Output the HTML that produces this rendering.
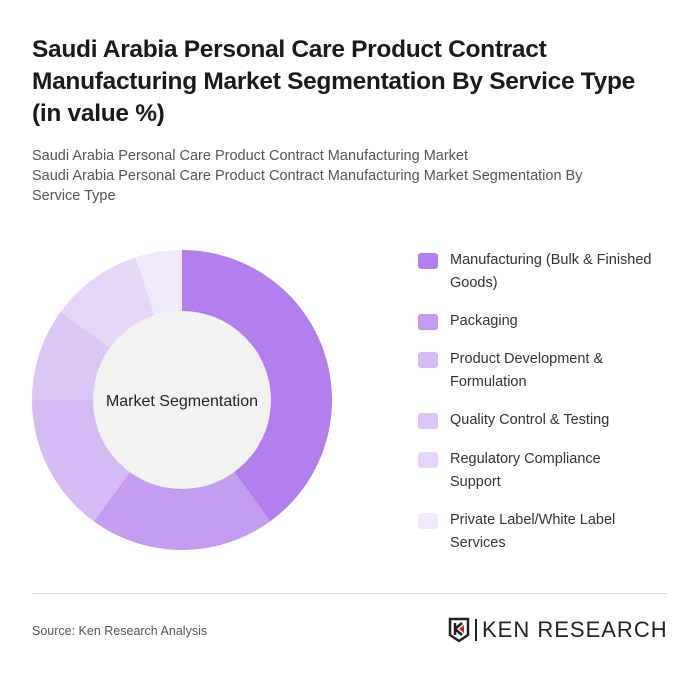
<!DOCTYPE html>
<html><head><meta charset="utf-8">
<style>
body{margin:0;width:700px;height:678px;background:#fff;font-family:"Liberation Sans",sans-serif;position:relative;overflow:hidden}
.t{position:absolute;left:32px;top:34px;font-size:24.5px;font-weight:bold;color:#1a1a1a;line-height:32px;width:660px;letter-spacing:-0.3px;white-space:nowrap}
.s{position:absolute;left:32px;top:146px;font-size:14.5px;color:#555;line-height:20px;width:600px}
.leg{position:absolute;left:418px;font-size:14.5px;color:#333;line-height:23px}
.leg span{position:absolute;left:0;top:4px;width:20px;height:16px;border-radius:3px}
.leg div{margin-left:32px;width:250px}
.hr{position:absolute;left:32px;top:593px;width:636px;height:1px;background:#ddd}
.src{position:absolute;left:32px;top:624px;font-size:12.5px;color:#555}
</style></head><body>
<div class="t">Saudi Arabia Personal Care Product Contract<br>Manufacturing Market Segmentation By Service Type<br>(in value %)</div>
<div class="s">Saudi Arabia Personal Care Product Contract Manufacturing Market<br>Saudi Arabia Personal Care Product Contract Manufacturing Market Segmentation By Service Type</div>
<svg id="donut" style="position:absolute;left:0;top:0" width="400" height="600"></svg>
<div id="legend"></div>
<div class="hr"></div>
<div class="src">Source: Ken Research Analysis</div>
<div style="position:absolute;left:448px;top:617px;height:26px;display:flex;align-items:center">
<svg width="22" height="26" viewBox="0 0 22 26"><path d="M2 2h18v16l-9 6-9-6z" fill="none" stroke="#222" stroke-width="2.5"/><path d="M7 6v12M7 12l7-6M7 12l7 6" stroke="#222" stroke-width="2.5" fill="none"/><path d="M11 12l5-4v8z" fill="#d0202a"/></svg>
<div style="width:2px;height:22px;background:#222;margin:0 5px"></div>
<span style="font-size:22px;color:#222;letter-spacing:1px">KEN RESEARCH</span>
</div>
<script>
const categories=["Manufacturing (Bulk & Finished|Goods)","Packaging","Product Development &|Formulation","Quality Control & Testing","Regulatory Compliance|Support","Private Label/White Label|Services"];
const values=[40,20,15,10,10,5];
const colors=["#b27ded","#c49cf0","#d5baf4","#dcc6f5","#e6d6f8","#f0e8fb"];
const NS="http://www.w3.org/2000/svg";
const svg=document.getElementById('donut');
const cx=182,cy=400,R=150,r=89;
const total=values.reduce((a,b)=>a+b,0);
let a0=0;
function pt(a,rad){return [cx+rad*Math.sin(a),cy-rad*Math.cos(a)];}
values.forEach((v,i)=>{
 const a1=a0+v/total*2*Math.PI;
 const [x0,y0]=pt(a0,R),[x1,y1]=pt(a1,R);
 const lg=(a1-a0)>Math.PI?1:0;
 const p=document.createElementNS(NS,'path');
 p.setAttribute('d',`M${cx},${cy}L${x0},${y0}A${R},${R} 0 ${lg} 1 ${x1},${y1}Z`);
 p.setAttribute('fill',colors[i]);
 
 
 svg.appendChild(p);
 a0=a1;
});
const c=document.createElementNS(NS,'circle');
c.setAttribute('cx',cx);c.setAttribute('cy',cy);c.setAttribute('r',r);c.setAttribute('fill','#f2f2f2');


svg.appendChild(c);
const t=document.createElementNS(NS,'text');
t.setAttribute('x',cx);t.setAttribute('y',cy+6);t.setAttribute('text-anchor','middle');
t.setAttribute('font-size','16');t.setAttribute('fill','#222');t.setAttribute('font-family','Liberation Sans, sans-serif');
t.textContent='Market Segmentation';


svg.appendChild(t);
const tops=[249,310,348,409,448,509];
const lg=document.getElementById('legend');
categories.forEach((cat,i)=>{
 const d=document.createElement('div');d.className='leg';d.style.top=tops[i]+'px';
 
 
 d.innerHTML=`<span style="background:${colors[i]}"></span><div>${cat.replace('&','&amp;').replace('|','<br>')}</div>`;
 lg.appendChild(d);
});
</script>
</body></html>
